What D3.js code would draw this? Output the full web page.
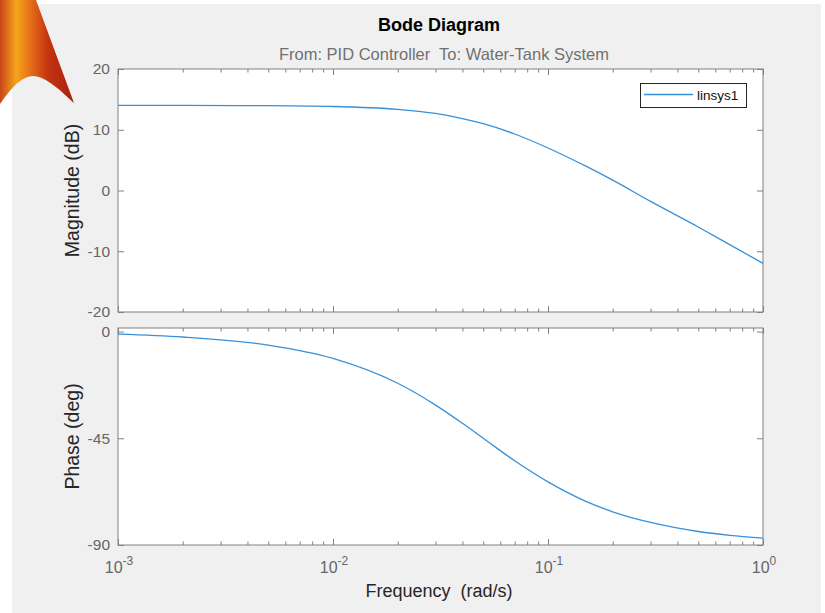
<!DOCTYPE html>
<html>
<head>
<meta charset="utf-8">
<script src="https://cdn.jsdelivr.net/npm/d3@7"></script>
<style>
  body { margin: 0; background: #fff; }
  text { font-family: "Liberation Sans", Arial, Helvetica, sans-serif; }
</style>
</head>
<body>
<script>
// values
var freq      = [0.001, 0.002, 0.005, 0.01, 0.02, 0.03, 0.04, 0.05, 0.07, 0.1, 0.15, 0.2, 0.3, 0.5, 0.7, 1];
var magnitude = [14.0, 14.0, 13.96, 13.83, 13.36, 12.7, 11.85, 11.0, 9.3, 7.0, 4.0, 1.7, -1.8, -6.0, -8.9, -12.0];
var phase     = [-1.1, -2.3, -5.7, -11.3, -21.8, -31.0, -38.7, -45.0, -54.5, -63.4, -71.6, -76.0, -80.5, -84.3, -85.9, -87.1];

var magTicks = [20, 10, 0, -10, -20];
var phaseTicks = [0, -45, -90];
var freqTicks = [1e-3, 1e-2, 1e-1, 1];
var freqExp = ["-3", "-2", "-1", "0"];

var width = 825, height = 613;
var left = 118, right = 763;
var magTop = 69, magBottom = 312;
var phTop = 328, phBottom = 545;

var svg = d3.select("body").append("svg")
  .attr("width", width)
  .attr("height", height);

// figure background
svg.append("rect")
  .attr("x", 12).attr("y", 4)
  .attr("width", 809).attr("height", 609)
  .attr("fill", "#f0f0f0");

// logo in the corner
var grad = svg.append("defs").append("linearGradient")
  .attr("id", "logoGrad")
  .attr("x1", "0%").attr("y1", "0%").attr("x2", "100%").attr("y2", "0%");
grad.append("stop").attr("offset", "0%").attr("stop-color", "#c8461a");
grad.append("stop").attr("offset", "22%").attr("stop-color", "#f7a51c");
grad.append("stop").attr("offset", "42%").attr("stop-color", "#e46c18");
grad.append("stop").attr("offset", "65%").attr("stop-color", "#c33412");
grad.append("stop").attr("offset", "100%").attr("stop-color", "#a8200e");
svg.append("path")
  .attr("d", "M0,0 L36,0 L74,103 C62,92 46,76 33,76 C21,76 10,90 0,104 Z")
  .attr("fill", "url(#logoGrad)");

var x = d3.scaleLog().domain([1e-3, 1]).range([left, right]);
var yMag = d3.scaleLinear().domain([-20, 20]).range([magBottom, magTop]);
var yPh = d3.scaleLinear().domain([-90, 1.5]).range([phBottom, phTop]);

var minorTicks = [];
[1e-3, 1e-2, 1e-1].forEach(function(d) {
  for (var k = 2; k <= 9; k++) minorTicks.push(d * k);
});

var axisColor = "#808080", labelColor = "#666666", lineColor = "#3791da";

function drawPanel(top, bottom, yScale, yTicks, values, yLabel, showX) {
  var g = svg.append("g");

  g.append("rect")
    .attr("x", left).attr("y", top)
    .attr("width", right - left).attr("height", bottom - top)
    .attr("fill", "#fff");

  // ticks pointing inward on all four sides
  g.append("g").attr("transform", "translate(0," + bottom + ")")
    .call(d3.axisBottom(x).tickValues(freqTicks).tickSize(-6).tickFormat(""));
  g.append("g").attr("transform", "translate(0," + bottom + ")")
    .call(d3.axisBottom(x).tickValues(minorTicks).tickSize(-3.5).tickFormat(""));
  g.append("g").attr("transform", "translate(0," + top + ")")
    .call(d3.axisTop(x).tickValues(freqTicks).tickSize(-6).tickFormat(""));
  g.append("g").attr("transform", "translate(0," + top + ")")
    .call(d3.axisTop(x).tickValues(minorTicks).tickSize(-3.5).tickFormat(""));

  g.append("g").attr("class", "yleft").attr("transform", "translate(" + left + ",0)")
    .call(d3.axisLeft(yScale).tickValues(yTicks).tickSize(-6).tickPadding(8)
      .tickFormat(function(d) { return String(d); }));
  g.append("g").attr("transform", "translate(" + right + ",0)")
    .call(d3.axisRight(yScale).tickValues(yTicks).tickSize(-6).tickFormat(""));

  g.selectAll(".domain").remove();
  g.selectAll(".tick line").attr("stroke", axisColor);
  g.selectAll(".yleft text")
    .attr("fill", labelColor)
    .style("font-size", "15.5px");

  g.append("rect")
    .attr("x", left).attr("y", top)
    .attr("width", right - left).attr("height", bottom - top)
    .attr("fill", "none")
    .attr("stroke", axisColor);

  var line = d3.line()
    .x(function(d, i) { return x(freq[i]); })
    .y(function(d) { return yScale(d); })
    .curve(d3.curveMonotoneX);

  g.append("path")
    .datum(values)
    .attr("d", line)
    .attr("fill", "none")
    .attr("stroke", lineColor)
    .attr("stroke-width", 1.3);

  svg.append("text")
    .attr("transform", "translate(79," + ((top + bottom) / 2) + ") rotate(-90)")
    .attr("text-anchor", "middle")
    .attr("fill", "#262626")
    .style("font-size", "19.5px")
    .text(yLabel);

  if (showX) {
    var lab = svg.append("g").selectAll("text")
      .data(freqTicks)
      .enter().append("text")
      .attr("x", function(d) { return x(d) + 1; })
      .attr("y", bottom + 28)
      .attr("text-anchor", "middle")
      .attr("fill", labelColor)
      .style("font-size", "16px");
    lab.append("tspan").text("10");
    lab.append("tspan")
      .attr("dy", -8)
      .style("font-size", "12px")
      .text(function(d, i) { return freqExp[i]; });
  }
}

drawPanel(magTop, magBottom, yMag, magTicks, magnitude, "Magnitude (dB)", false);
drawPanel(phTop, phBottom, yPh, phaseTicks, phase, "Phase (deg)", true);

// legend
var leg = svg.append("g");
leg.append("rect")
  .attr("x", 640.5).attr("y", 83.5)
  .attr("width", 106).attr("height", 24)
  .attr("fill", "#fff")
  .attr("stroke", "#262626");
leg.append("line")
  .attr("x1", 644).attr("x2", 693)
  .attr("y1", 94.5).attr("y2", 94.5)
  .attr("stroke", lineColor)
  .attr("stroke-width", 1.3);
leg.append("text")
  .attr("x", 697).attr("y", 100)
  .attr("fill", "#111")
  .style("font-size", "13.5px")
  .text("linsys1");

// titles
svg.append("text")
  .attr("x", 439).attr("y", 31)
  .attr("text-anchor", "middle")
  .attr("fill", "#000")
  .style("font-size", "18px")
  .style("font-weight", "bold")
  .text("Bode Diagram");

svg.append("text")
  .attr("x", 444).attr("y", 60)
  .attr("text-anchor", "middle")
  .attr("fill", "#707070")
  .style("font-size", "16.5px")
  .style("white-space", "pre")
  .attr("xml:space", "preserve")
  .text("From: PID Controller  To: Water-Tank System");

svg.append("text")
  .attr("x", 439).attr("y", 597)
  .attr("text-anchor", "middle")
  .attr("fill", "#262626")
  .style("font-size", "18px")
  .style("white-space", "pre")
  .attr("xml:space", "preserve")
  .text("Frequency  (rad/s)");
</script>
</body>
</html>
